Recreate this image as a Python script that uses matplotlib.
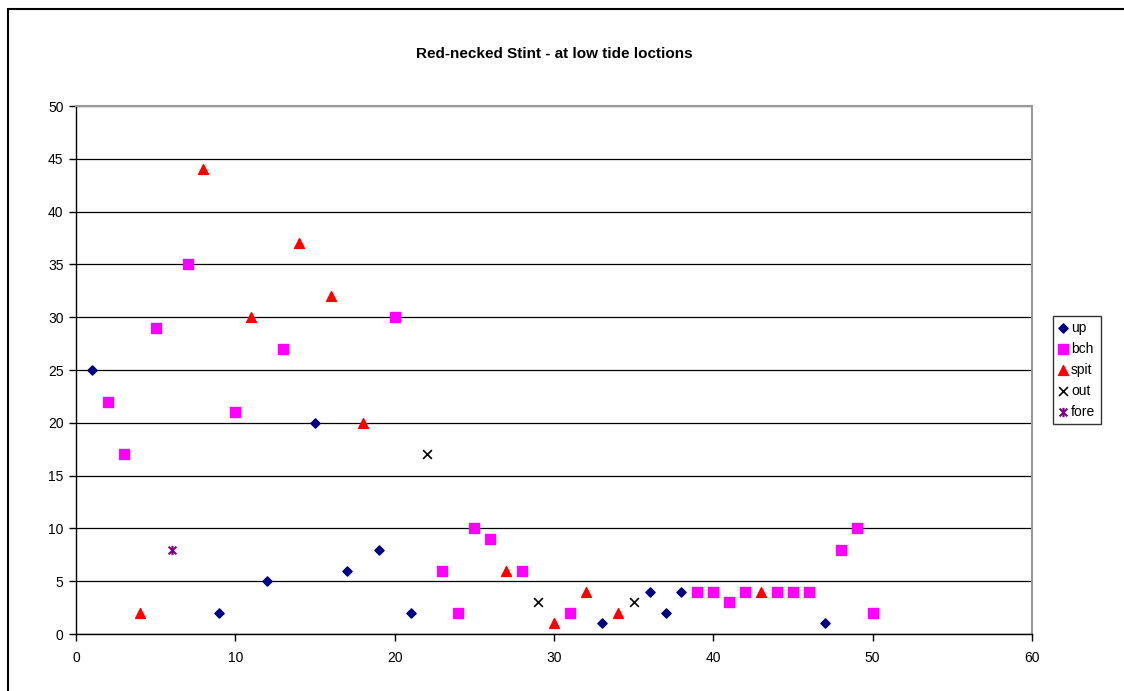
import matplotlib
matplotlib.use("Agg")
import matplotlib.pyplot as plt
from matplotlib.path import Path
from matplotlib.patches import Rectangle

plt.rcParams['font.family'] = ['Liberation Sans', 'DejaVu Sans']

up_x = [1, 9, 12, 15, 17, 19, 21, 33, 36, 37, 38, 47]
up_y = [25, 2, 5, 20, 6, 8, 2, 1, 4, 2, 4, 1]
bch_x = [2, 3, 5, 7, 10, 13, 20, 23, 24, 25, 26, 28, 31, 39, 40, 41, 42, 44, 45, 46, 48, 49, 50]
bch_y = [22, 17, 29, 35, 21, 27, 30, 6, 2, 10, 9, 6, 2, 4, 4, 3, 4, 4, 4, 4, 8, 10, 2]
spit_x = [4, 8, 11, 14, 16, 18, 27, 30, 32, 34, 43]
spit_y = [2, 44, 30, 37, 32, 20, 6, 1, 4, 2, 4]
out_x = [22, 29, 35]
out_y = [17, 3, 3]
fore_x = [6]
fore_y = [8]

title = "Red-necked Stint - at low tide loctions"

fig = plt.figure(figsize=(11.24, 6.91), dpi=100)
fig.patches.append(Rectangle((8/1124, -0.05), (1124-8+5)/1124, 1.05 - 9/691, transform=fig.transFigure,
                             fill=False, edgecolor='black', linewidth=1.5))
ax = fig.add_axes([76/1124, 1 - 634/691, (1032-76)/1124, (634-106)/691])

star = Path([(-1, -1), (1, 1), (-1, 1), (1, -1), (0, -1.2), (0, 1.2)],
            [Path.MOVETO, Path.LINETO, Path.MOVETO, Path.LINETO, Path.MOVETO, Path.LINETO])

ax.scatter(up_x, up_y, marker='D', s=22, color='#000080', label='up', zorder=3)
ax.scatter(bch_x, bch_y, marker='s', s=45, color='#FF00FF', label='bch', zorder=3)
ax.scatter(spit_x, spit_y, marker='^', s=50, color='#FF0000', label='spit', zorder=3)
ax.scatter(out_x, out_y, marker='x', s=40, color='black', linewidths=1.2, label='out', zorder=3)
ax.scatter(fore_x, fore_y, marker=star, s=45, color='#800080', linewidths=1.5, label='fore', zorder=3)

ax.set_xlim(0, 60)
ax.set_ylim(0, 50)
ax.set_xticks(range(0, 61, 10))
ax.set_yticks(range(0, 51, 5))
ax.yaxis.grid(True, color='black', linewidth=0.9)
ax.set_axisbelow(True)
for s in ['left', 'bottom']:
    ax.spines[s].set_color('black')
    ax.spines[s].set_linewidth(1.0)
for s in ['top', 'right']:
    ax.spines[s].set_color('#999999')
    ax.spines[s].set_linewidth(1.5)
ax.tick_params(axis='both', direction='out', length=5, width=1, labelsize=10, colors='black')
ax.tick_params(axis='x', pad=7)
ax.tick_params(axis='y', pad=4)

fig.text(554/1124, 1 - 54/691, title, ha='center', va='center', fontsize=11, fontweight='bold')

leg = ax.legend(loc='center left', bbox_to_anchor=(1053/1124, 1 - 370/691), bbox_transform=fig.transFigure,
                frameon=True, fancybox=False, edgecolor='black', fontsize=10,
                handlelength=0.6, handletextpad=0.3, labelspacing=0.5, borderpad=0.4,
                borderaxespad=0)
leg.get_frame().set_linewidth(1.0)

fig.savefig('out.png', dpi=100)
